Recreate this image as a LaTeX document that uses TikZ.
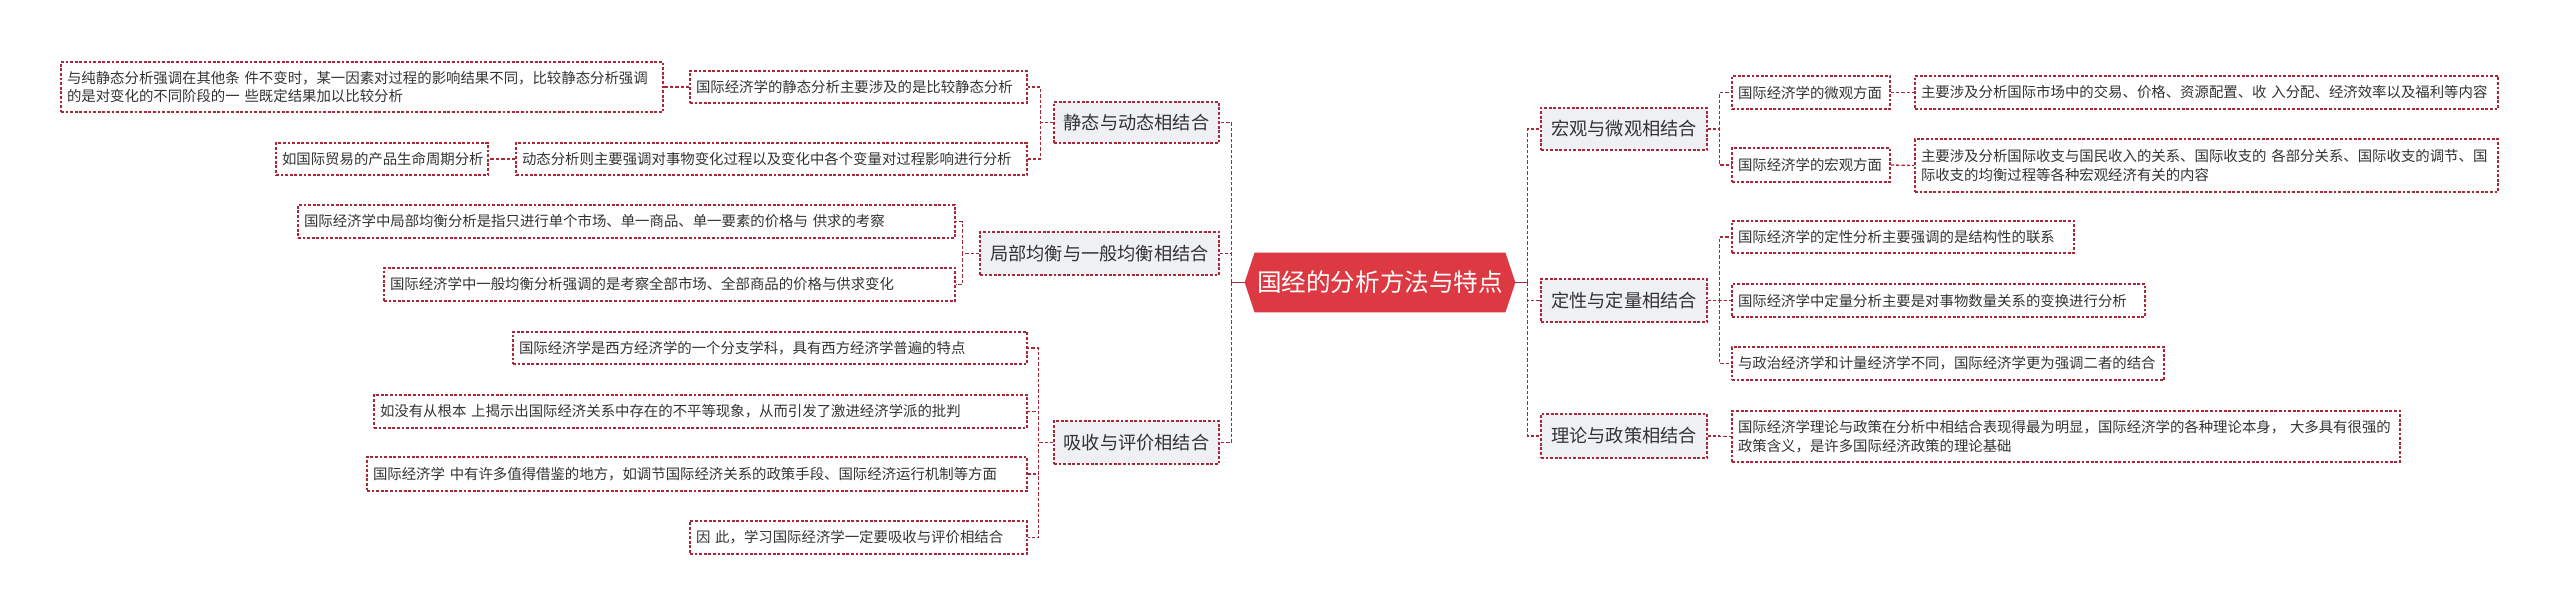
\documentclass[tikz,border=0pt]{standalone}
\usepackage{fontspec}
\setmainfont{Noto Sans CJK SC}
\usetikzlibrary{backgrounds}
\definecolor{mmred}{HTML}{DC3942}
\definecolor{mmline}{HTML}{A8283A}
\definecolor{mmgray}{HTML}{EEF0F4}
\definecolor{mmtext}{HTML}{333333}
\begin{document}
\begin{tikzpicture}[x=0.5pt,y=-0.5pt,
  box/.style={draw=mmline, line width=0.6pt, dash pattern=on 1.4pt off 0.9pt, fill=white,
    inner xsep=3pt, inner ysep=0pt, font=\fontsize{7.2pt}{9.3pt}\selectfont, text=mmtext, align=left},
  sec/.style={draw=mmline, line width=0.6pt, dash pattern=on 1.4pt off 0.9pt, fill=mmgray,
    inner sep=0pt, font=\fontsize{9.1pt}{11pt}\selectfont, text=mmtext, align=center},
  link/.style={draw=mmline, line width=0.65pt, dash pattern=on 1.7pt off 1pt},
  stub/.style={draw=mmline, line width=0.65pt},
  centre/.style={inner sep=0pt, font=\fontsize{12.3pt}{14pt}\selectfont, text=white}]
\useasboundingbox (0,0) rectangle (2560,615);

% centre
\node[centre, minimum width=135pt, minimum height=29.5pt] (C) at (1380,282.5) {国经的分析方法与特点};
\begin{scope}[on background layer]
\fill[white] (0,0) rectangle (2560,615);
\fill[mmred] (C.west) -- ([xshift=5pt]C.north west) -- ([xshift=-5pt]C.north east) -- (C.east)
  -- ([xshift=-5pt]C.south east) -- ([xshift=5pt]C.south west) -- cycle;
\end{scope}

% secondary nodes
\node[sec, minimum width=82.5pt, minimum height=20.5pt] (S1) at (1136.5,122.5) {静态与动态相结合};
\node[sec, minimum width=119.5pt, minimum height=21.5pt] (S2) at (1099.5,253.5) {局部均衡与一般均衡相结合};
\node[sec, minimum width=82.5pt, minimum height=21.5pt] (S3) at (1136.5,442.5) {吸收与评价相结合};
\node[sec, minimum width=83pt, minimum height=21pt] (S4) at (1624,129) {宏观与微观相结合};
\node[sec, minimum width=83pt, minimum height=21.5pt] (S5) at (1624,300.5) {定性与定量相结合};
\node[sec, minimum width=83pt, minimum height=22pt] (S6) at (1624,436) {理论与政策相结合};

% left leaves
\node[box, text width=162.5pt, minimum height=16pt] (L1a) at (858.5,87) {国际经济学的静态分析主要涉及的是比较静态分析};
\node[box, text width=295pt, minimum height=25pt] (L1b) at (362,87) {与纯静态分析强调在其他条~件不变时，某一因素对过程的影响结果不同，比较静态分析强调\\的是对变化的不同阶段的一~些既定结果加以比较分析};
\node[box, text width=249.5pt, minimum height=16pt] (L2a) at (771.5,159) {动态分析则主要强调对事物变化过程以及变化中各个变量对过程影响进行分析};
\node[box, text width=100pt, minimum height=16pt] (L2b) at (382,159) {如国际贸易的产品生命周期分析};
\node[box, text width=322.5pt, minimum height=16.5pt] (L3) at (626.5,221.5) {国际经济学中局部均衡分析是指只进行单个市场、单一商品、单一要素的价格与~供求的考察};
\node[box, text width=279.5pt, minimum height=16.5pt] (L4) at (669.5,284.5) {国际经济学中一般均衡分析强调的是考察全部市场、全部商品的价格与供求变化};
\node[box, text width=251pt, minimum height=16pt] (L5) at (770,348) {国际经济学是西方经济学的一个分支学科，具有西方经济学普遍的特点};
\node[box, text width=320.5pt, minimum height=16.5pt] (L6) at (700.5,411.5) {如没有从根本~上揭示出国际经济关系中存在的不平等现象，从而引发了激进经济学派的批判};
\node[box, text width=324pt, minimum height=17pt] (L7) at (697,474) {国际经济学~中有许多值得借鉴的地方，如调节国际经济关系的政策手段、国际经济运行机制等方面};
\node[box, text width=162.5pt, minimum height=16.5pt] (L8) at (858.5,537.5) {因~此，学习国际经济学一定要吸收与评价相结合};

% right leaves
\node[box, text width=73pt, minimum height=16.5pt] (R1a) at (1811,92.5) {国际经济学的微观方面};
\node[box, text width=285.5pt, minimum height=16.5pt] (R1b) at (2206.5,92.5) {主要涉及分析国际市场中的交易、价格、资源配置、收~入分配、经济效率以及福利等内容};
\node[box, text width=73pt, minimum height=17pt] (R2a) at (1811,165) {国际经济学的宏观方面};
\node[box, text width=285.5pt, minimum height=26.5pt] (R2b) at (2206.5,165.5) {主要涉及分析国际收支与国民收入的关系、国际收支的~各部分关系、国际收支的调节、国\\际收支的均衡过程等各种宏观经济有关的内容};
\node[box, text width=165pt, minimum height=16pt] (R3) at (1903,237) {国际经济学的定性分析主要强调的是结构性的联系};
\node[box, text width=200.5pt, minimum height=16.5pt] (R4) at (1938.5,300.5) {国际经济学中定量分析主要是对事物数量关系的变换进行分析};
\node[box, text width=210pt, minimum height=16.5pt] (R5) at (1948,363.5) {与政治经济学和计量经济学不同，国际经济学更为强调二者的结合};
\node[box, text width=328pt, minimum height=25.5pt] (R6) at (2066,436.5) {国际经济学理论与政策在分析中相结合表现得最为明显，国际经济学的各种理论本身，~大多具有很强的\\政策含义，是许多国际经济政策的理论基础};

% main connectors
\draw[stub] (C.west) -- ++(-13,0) coordinate (LT);
\draw[stub] (C.east) -- ++(12,0) coordinate (RT);
\draw[link] (LT) |- (S1.east);
\draw[link] (LT) |- (S2.east);
\draw[link] (LT) |- (S3.east);
\draw[link] (RT) |- (S4.west);
\draw[link] (RT) |- (S5.west);
\draw[link] (RT) |- (S6.west);

% left sub connectors
\draw[link] (S1.west) -- ++(-13,0) |- (L1a.east);
\draw[link] (S1.west) -- ++(-13,0) |- (L2a.east);
\draw[link] (L1a.west) -- (L1b.east);
\draw[link] (L2a.west) -- (L2b.east);
\draw[link] (S2.west) -- ++(-17,0) |- (L3.east);
\draw[link] (S2.west) -- ++(-17,0) |- (L4.east);
\draw[link] (S3.west) -- ++(-15,0) |- (L5.east);
\draw[link] (S3.west) -- ++(-15,0) |- (L6.east);
\draw[link] (S3.west) -- ++(-15,0) |- (L7.east);
\draw[link] (S3.west) -- ++(-15,0) |- (L8.east);

% right sub connectors
\draw[link] (S4.east) -- ++(12,0) |- (R1a.west);
\draw[link] (S4.east) -- ++(12,0) |- (R2a.west);
\draw[link] (R1a.east) -- (R1b.west);
\draw[link] (R2a.east) -- (R2b.west);
\draw[link] (S5.east) -- ++(12,0) |- (R3.west);
\draw[link] (S5.east) -- ++(12,0) |- (R4.west);
\draw[link] (S5.east) -- ++(12,0) |- (R5.west);
\draw[link] (S6.east) -- ++(12,0) |- (R6.west);
\end{tikzpicture}
\end{document}
